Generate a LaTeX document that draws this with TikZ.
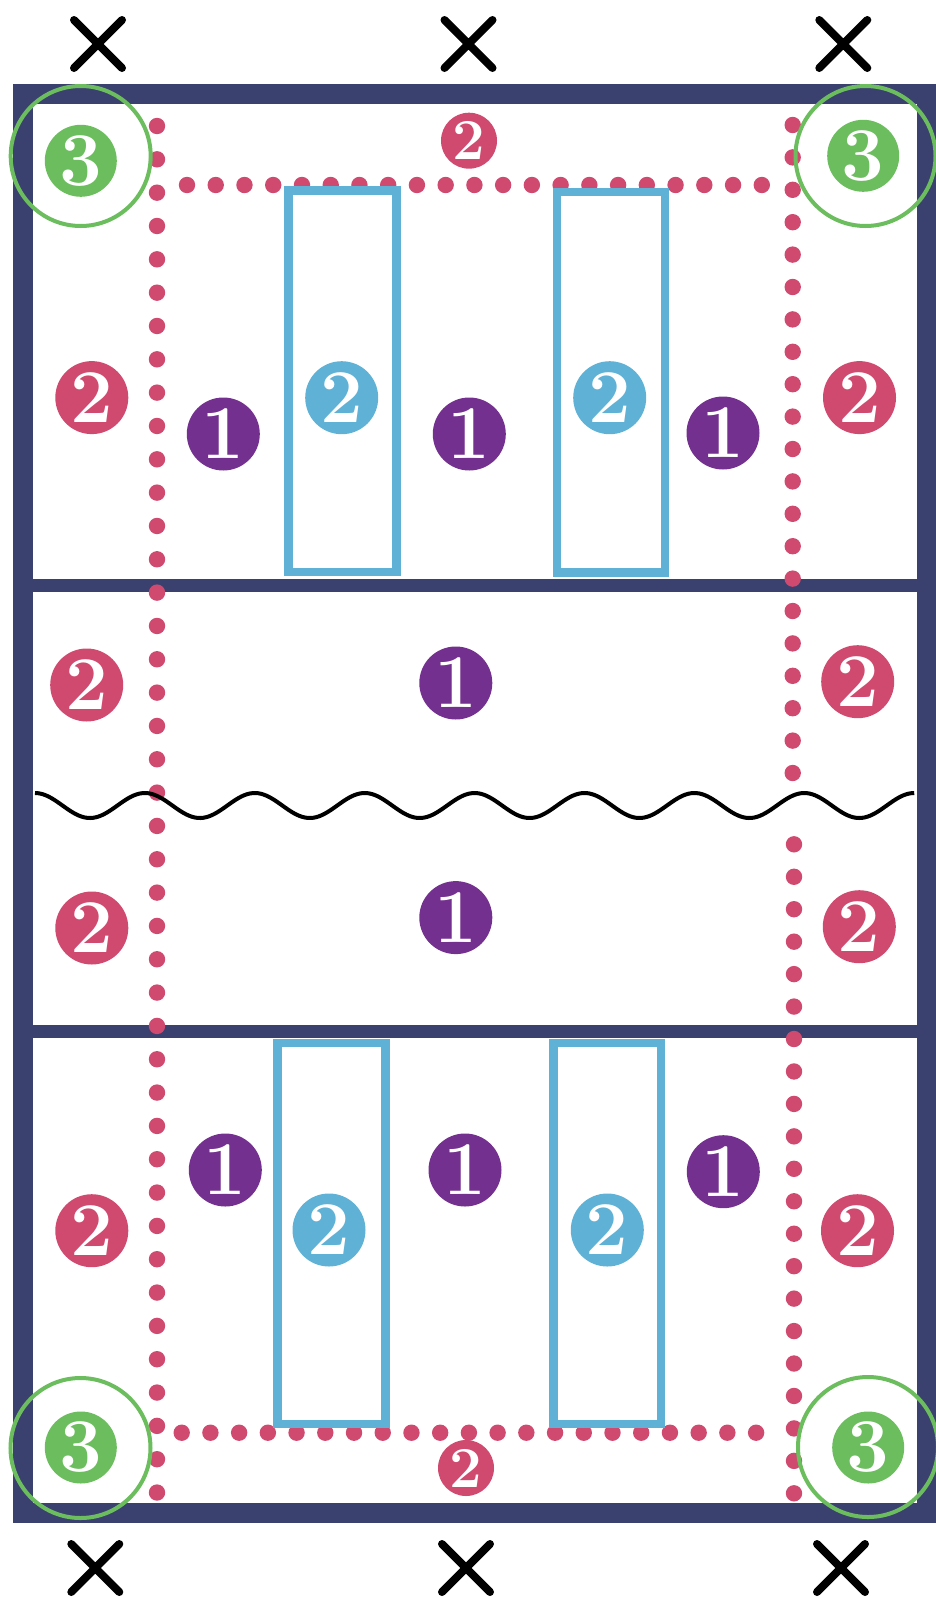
\documentclass[tikz,border=0pt]{standalone}
\usepackage{fontspec}
\definecolor{courtnavy}{HTML}{3A416F}
\definecolor{rosec}{HTML}{D04A70}
\definecolor{plumc}{HTML}{74308F}
\definecolor{skyc}{HTML}{5FB2D5}
\definecolor{leafc}{HTML}{6BBD5E}
\tikzset{
 num/.style={circle,inner sep=0pt,minimum size=73pt,text=white,font=\fontsize{76}{76}\selectfont\bfseries},
 pnum/.style={num,fill=plumc},
 rnum/.style={num,fill=rosec},
 bnum/.style={num,fill=skyc},
 gnum/.style={num,fill=leafc,minimum size=72pt},
 rsmall/.style={rnum,minimum size=56pt,font=\fontsize{58}{58}\selectfont\bfseries},
 zonebox/.style={draw=skyc,line width=8.6pt},
 ring/.style={draw=leafc,line width=4pt},
 xmark/.style={line width=8pt,line cap=round},
}
\begin{document}
\begin{tikzpicture}[x=1pt,y=-1pt]
 \useasboundingbox (0,0) rectangle (935,1598);
 \draw[courtnavy,line width=20pt] (22.7,94) rectangle (926.7,1513);
 \draw[courtnavy,line width=12.5pt] (22.7,585.5) -- (926.7,585.5);
 \draw[courtnavy,line width=13pt] (22.7,1031.7) -- (926.7,1031.7);
 \foreach \i in {0,...,41} \fill[rosec] (157,{126+33.33*\i}) circle (8.2);
 \foreach \i in {0,...,20} \fill[rosec] (792.7,{125+32.4*\i}) circle (8.2);
 \foreach \i in {0,...,20} \fill[rosec] (794,{844.3+32.45*\i}) circle (8.2);
 \foreach \i in {0,...,20} \fill[rosec] ({187+28.74*\i},185) circle (8.2);
 \foreach \i in {0,...,20} \fill[rosec] ({181.7+28.72*\i},1432.7) circle (8.2);
 \draw[zonebox] (288.3,190.5) rectangle (396.3,572);
 \draw[zonebox] (557,192) rectangle (665,572.7);
 \draw[zonebox] (277.5,1043) rectangle (385.2,1424);
 \draw[zonebox] (553.2,1043) rectangle (661,1424);
 \draw[line width=4pt] plot[domain=0:2880,samples=320,smooth] ({35+0.30528*\x},{805.5-12.5*cos(\x)});
 \foreach \x/\y in {98/44,468.5/44,843.3/44,95.3/1568,466/1568,841/1568}
  \draw[xmark] (\x-24,\y-24) -- (\x+24,\y+24) (\x-24,\y+24) -- (\x+24,\y-24);
 \draw[ring] (80.7,156) circle (70);
 \draw[ring] (865.5,156) circle (70);
 \draw[ring] (80.5,1448) circle (70);
 \draw[ring] (868,1447) circle (70);
 \node[gnum] (gTL) at (80.8,160.8) {3};
 \node[gnum] (gTR) at (863.2,155.8) {3};
 \node[gnum] (gBL) at (80.8,1447.5) {3};
 \node[gnum] (gBR) at (868.2,1447.5) {3};
 \node[rsmall] (rTop) at (469,140.7) {2};
 \node[rsmall] (rBot) at (466,1468) {2};
 \node[rnum] (rL1) at (91.8,397.6) {2};
 \node[rnum] (rL2) at (86.7,685) {2};
 \node[rnum] (rL3) at (91.8,928) {2};
 \node[rnum] (rL4) at (91.8,1230.7) {2};
 \node[rnum] (rR1) at (859.5,397.6) {2};
 \node[rnum] (rR2) at (857.7,681.7) {2};
 \node[rnum] (rR3) at (859.3,926.7) {2};
 \node[rnum] (rR4) at (857.5,1230.7) {2};
 \node[bnum] (bTL) at (341.7,397.7) {2};
 \node[bnum] (bTR) at (609.7,397.7) {2};
 \node[bnum] (bBL) at (329,1230) {2};
 \node[bnum] (bBR) at (607.3,1230) {2};
 \node[pnum] (pT1) at (223.3,434) {1};
 \node[pnum] (pT2) at (469.3,434) {1};
 \node[pnum] (pT3) at (723,433) {1};
 \node[pnum] (pM1) at (455.8,683) {1};
 \node[pnum] (pM2) at (455.8,917.6) {1};
 \node[pnum] (pB1) at (225.3,1170) {1};
 \node[pnum] (pB2) at (465,1170) {1};
 \node[pnum] (pB3) at (723.3,1171.7) {1};
\end{tikzpicture}
\end{document}
